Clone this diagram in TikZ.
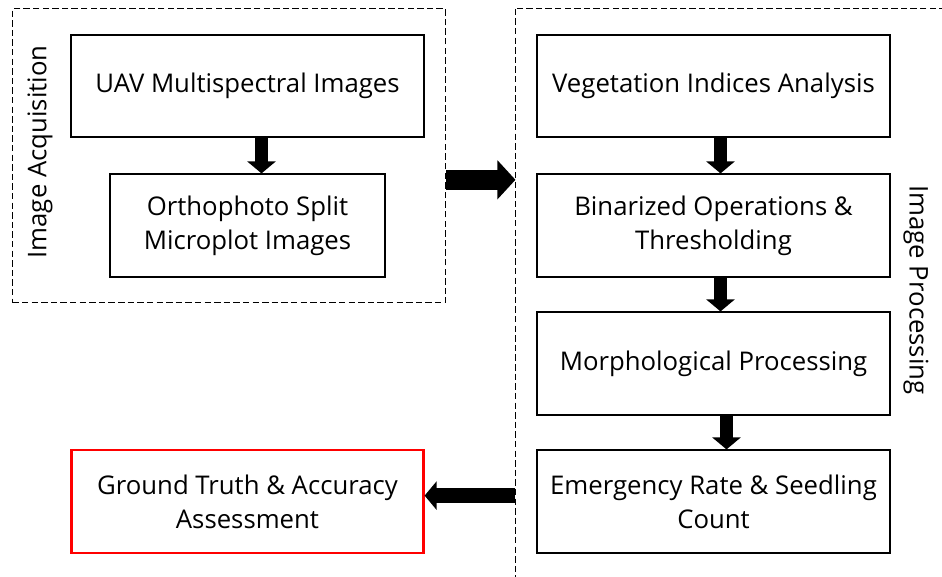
\documentclass[tikz,border=0pt]{standalone}
\usepackage{fontspec}
\setmainfont{Open Sans}
\usepackage{tikz}
\usetikzlibrary{calc, positioning, arrows.meta, fit}
\tikzset{
    stepbox/.style={rectangle, draw=black, line width=1.4pt, fill=white, align=center, minimum width=8.8cm, minimum height=2.56cm, font=\fontsize{18.3}{24}\selectfont},
    resultbox/.style={stepbox, draw=red, line width=1.5pt},
    group/.style={rectangle, draw=black, line width=0.9pt, dash pattern=on 0.16cm off 0.08cm},
    sidelabel/.style={font=\fontsize{18.3}{24}\selectfont, inner sep=0pt},
    fatdown/.style={-{Triangle[width=0.7cm, length=0.3cm]}, line width=0.33cm},
    fatright/.style={-{Triangle[width=0.95cm, length=0.45cm]}, line width=0.5cm},
    fatleft/.style={-{Triangle[width=0.7cm, length=0.3cm]}, line width=0.37cm}
}
\begin{document}
\begin{tikzpicture}[x=0.025cm, y=-0.025cm]
        \clip (0,0) rectangle (942,577);
        
        % Image acquisition
        \node[stepbox] (uav) at (247.5,86) {UAV Multispectral Images};
        \node[stepbox, minimum width=6.85cm, below=0.88cm of uav] (ortho) {Orthophoto Split\\Microplot Images};
        \draw[fatdown] ($(uav.south)+(14,0)$) -- ($(ortho.north)+(14,0)$);
        \node[sidelabel, rotate=90] (acqlabel) at (40,152) {Image Acquisition};
        \node[group, inner sep=0pt, fit={($(uav.north west)+(-58,-25)$) ($(ortho.south -| uav.east)+(21,25)$)}] (acq) {};
        
        % Image processing
        \node[stepbox] (veg) at (713.5,86) {Vegetation Indices Analysis};
        \node[stepbox, below=0.88cm of veg] (bin) {Binarized Operations \&\\Thresholding};
        \node[stepbox, below=0.84cm of bin] (morph) {Morphological Processing};
        \node[stepbox, below=0.84cm of morph] (emerg) {Emergency Rate \& Seedling\\Count};
        \draw[fatdown] ($(veg.south)+(7,0)$) -- ($(bin.north)+(7,0)$);
        \draw[fatdown] ($(bin.south)+(7,0)$) -- ($(morph.north)+(7,0)$);
        \draw[fatdown] ($(morph.south)+(13,0)$) -- ($(emerg.north)+(13,0)$);
        \node[sidelabel, rotate=-90] (proclabel) at (916,290) {Image Processing};
        \coordinate (procnw) at ($(veg.north west)+(-21,-25)$);
        \draw[group] (procnw) rectangle ($(emerg.south east)+(80,60)$);
        
        % Acquisition to processing
        \coordinate (a1) at ($(acq.east)+(0,24)$);
        \draw[fatright] (a1) -- (a1 -| procnw);
        
        % Result
        \node[resultbox] (truth) at (uav |- emerg) {Ground Truth \& Accuracy\\Assessment};
        \coordinate (a2) at ($(truth.east)+(0,-6)$);
        \draw[fatleft] (a2 -| procnw) -- (a2);
        
    \end{tikzpicture}
\end{document}
